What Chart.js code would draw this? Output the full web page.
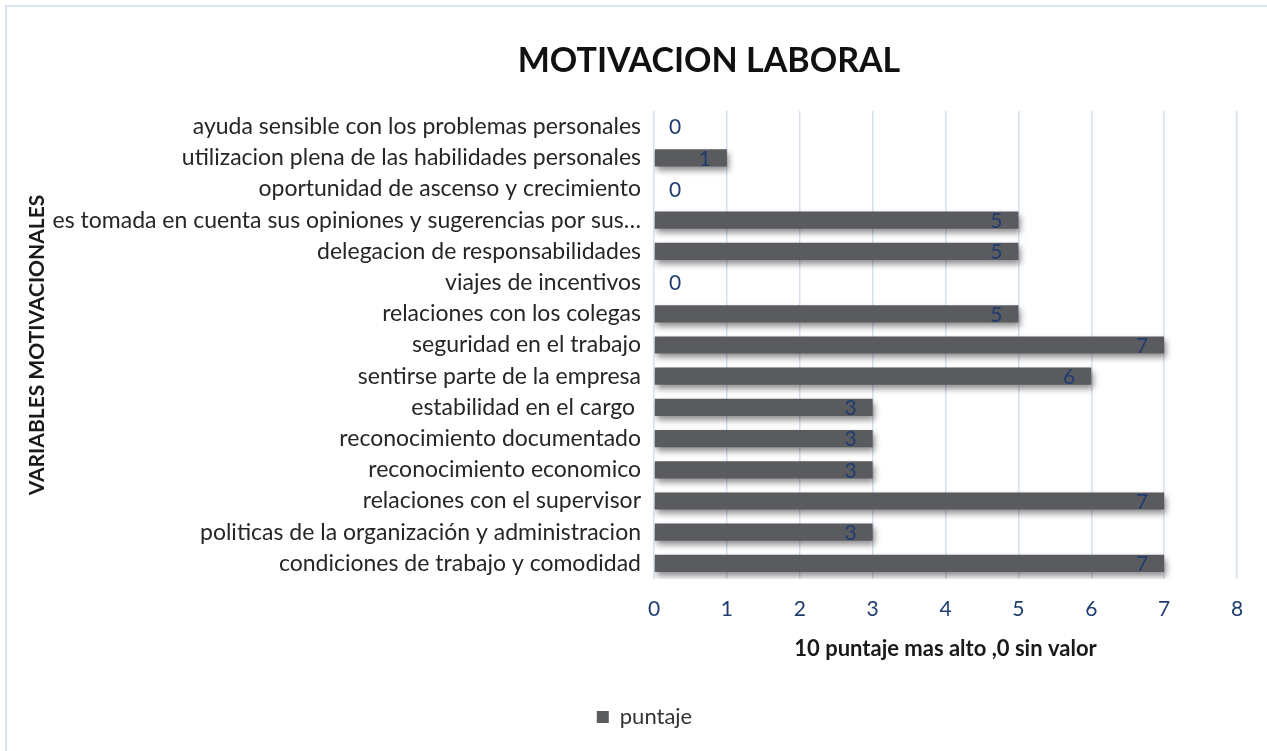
<!DOCTYPE html>
<html>
<head>
<meta charset="utf-8">
<title>Motivacion laboral</title>
<script src="https://cdn.jsdelivr.net/npm/chart.js"></script>
<style>
  html, body { margin: 0; padding: 0; background: #fff; }
  #wrap { position: relative; width: 1267px; height: 751px; overflow: hidden; }
  #frame { position: absolute; left: 5px; top: 5px; right: -10px; bottom: -10px;
           border-top: 2px solid #dbe3f0; border-left: 2px solid #dbe3f0; }
  canvas { position: absolute; left: 0; top: 0; }
</style>
</head>
<body>
<div id="wrap">
  <div id="frame"></div>
  <canvas id="myChart" width="1267" height="751"></canvas>
</div>

<script>
// variables, top to bottom
const variables = [
  'ayuda sensible con los problemas personales',
  'utilizacion plena de las habilidades personales',
  'oportunidad de ascenso y crecimiento',
  'es tomada en cuenta sus opiniones y sugerencias por sus…',
  'delegacion de responsabilidades',
  'viajes de incentivos',
  'relaciones con los colegas',
  'seguridad en el trabajo',
  'sentirse parte de la empresa',
  'estabilidad en el cargo ',
  'reconocimiento documentado',
  'reconocimiento economico',
  'relaciones con el supervisor',
  'politicas de la organización y administracion',
  'condiciones de trabajo y comodidad'
];
const puntaje = [0, 1, 0, 5, 5, 0, 5, 7, 6, 3, 3, 3, 7, 3, 7];
const scoreTicks = [0, 1, 2, 3, 4, 5, 6, 7, 8];
const chartTitle = 'MOTIVACION LABORAL';

const FONT = 'Lato, "Open Sans", sans-serif';
const BAR = '#5a5b5e';
const BLUE = '#1f3c6e';
const GRID = '#d6e0ee';

// title sits a little right of the canvas centre, so it is drawn by hand
const chartHeading = {
  id: 'chartHeading',
  afterDraw(chart) {
    const ctx = chart.ctx;
    ctx.save();
    ctx.font = 'bold 34px ' + FONT;
    ctx.fillStyle = '#111';
    ctx.textAlign = 'center';
    ctx.textBaseline = 'middle';
    ctx.fillText(chartTitle, 709, 61);
    ctx.restore();
  }
};

// nudge the legend a bit to the right
const legendShift = {
  id: 'legendShift',
  afterLayout(chart) {
    if (chart.legend) {
      chart.legend.left += 21;
      chart.legend.right += 21;
    }
  }
};

// soft drop shadow under the bars
const barShadow = {
  id: 'barShadow',
  beforeDatasetsDraw(chart) {
    const ctx = chart.ctx;
    ctx.save();
    ctx.shadowColor = 'rgba(0,0,0,0.45)';
    ctx.shadowBlur = 6;
    ctx.shadowOffsetX = 2;
    ctx.shadowOffsetY = 4;
  },
  afterDatasetsDraw(chart) {
    chart.ctx.restore();
  }
};

// value labels at the inside end of each bar
const valueLabels = {
  id: 'valueLabels',
  afterDatasetsDraw(chart) {
    const ctx = chart.ctx;
    const meta = chart.getDatasetMeta(0);
    const data = chart.data.datasets[0].data;
    ctx.save();
    ctx.font = '21px ' + FONT;
    ctx.fillStyle = BLUE;
    ctx.textBaseline = 'middle';
    meta.data.forEach((bar, i) => {
      const v = data[i];
      if (v > 0) {
        ctx.textAlign = 'right';
        ctx.fillText(String(v), bar.x - 16, bar.y + 1);
      } else {
        ctx.textAlign = 'left';
        ctx.fillText(String(v), bar.x + 15, bar.y + 1);
      }
    });
    ctx.restore();
  }
};

const ctx = document.getElementById('myChart').getContext('2d');
new Chart(ctx, {
  type: 'bar',
  data: {
    labels: variables,
    datasets: [{
      label: 'puntaje',
      data: puntaje,
      backgroundColor: BAR,
      borderWidth: 0,
      categoryPercentage: 1,
      barPercentage: 0.55
    }]
  },
  options: {
    indexAxis: 'y',
    responsive: false,
    animation: false,
    layout: { padding: { left: 10, right: 30, top: 111, bottom: 13 } },
    plugins: {
      title: { display: false },
      legend: {
        position: 'bottom',
        labels: {
          color: '#333',
          font: { family: FONT, size: 22 },
          boxWidth: 12,
          boxHeight: 12,
          padding: 10
        }
      },
      tooltip: { enabled: false }
    },
    scales: {
      x: {
        min: 0,
        max: 8,
        afterBuildTicks: (scale) => { scale.ticks = scoreTicks.map(v => ({ value: v })); },
        ticks: { color: BLUE, font: { family: FONT, size: 21 }, padding: 18 },
        grid: { color: GRID, lineWidth: 1.5, drawTicks: false },
        border: { display: false },
        title: {
          display: true,
          text: '10 puntaje mas alto ,0 sin valor',
          color: '#1a1a1a',
          font: { family: FONT, size: 22, weight: 'bold' },
          padding: { top: 4, bottom: 34 }
        },
        afterFit: (scale) => { scale.height = 117; }
      },
      y: {
        ticks: { color: '#262626', font: { family: FONT, size: 23 }, padding: 5, autoSkip: false },
        grid: { display: false },
        border: { display: false },
        title: {
          display: true,
          text: 'VARIABLES MOTIVACIONALES',
          color: '#1a1a1a',
          font: { family: FONT, size: 21, weight: 'bold' },
          padding: { top: 15, bottom: 0 }
        },
        afterFit: (scale) => { scale.width = 644; }
      }
    }
  },
  plugins: [legendShift, barShadow, valueLabels, chartHeading]
});
</script>
</body>
</html>
